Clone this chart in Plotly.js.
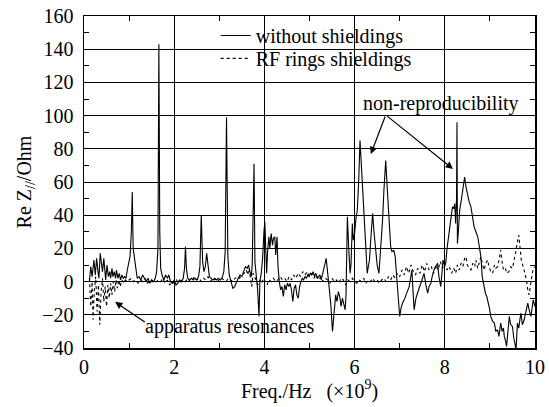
<!DOCTYPE html>
<html>
<head>
<meta charset="utf-8">
<script src="https://cdn.plot.ly/plotly-3.0.1.min.js"></script>
<style>
html,body{margin:0;padding:0;background:#fff}
#chart{width:549px;height:407px}
</style>
</head>
<body>
<div id="chart"></div>
<script>
// without shieldings (solid)
const freqA = [0.12,0.15,0.18,0.22,0.25,0.28,0.31,0.33,0.36,0.39,0.41,0.44,0.46,0.48,0.51,0.54,0.57,0.59,0.62,0.64,0.67,0.7,0.72,0.75,0.78,0.81,0.84,0.87,0.9,0.93,0.96,0.99,1.02,1.05,1.07,1.09,1.12,1.15,1.18,1.22,1.26,1.3,1.34,1.38,1.42,1.46,1.5,1.54,1.58,1.61,1.64,1.66,1.68,1.7,1.73,1.77,1.81,1.85,1.88,1.92,1.96,2.0,2.04,2.08,2.12,2.16,2.2,2.23,2.25,2.27,2.3,2.34,2.38,2.42,2.46,2.5,2.54,2.57,2.6,2.63,2.66,2.69,2.72,2.75,2.78,2.82,2.86,2.9,2.94,2.98,3.02,3.06,3.1,3.13,3.16,3.19,3.22,3.26,3.3,3.34,3.38,3.42,3.46,3.5,3.54,3.58,3.62,3.65,3.68,3.71,3.73,3.75,3.77,3.79,3.82,3.85,3.88,3.9,3.93,3.96,3.99,4.01,4.03,4.05,4.07,4.1,4.12,4.15,4.18,4.2,4.23,4.25,4.28,4.3,4.33,4.36,4.39,4.42,4.45,4.48,4.51,4.54,4.57,4.6,4.63,4.66,4.69,4.72,4.75,4.78,4.81,4.84,4.87,4.9,4.93,4.96,4.99,5.02,5.05,5.08,5.11,5.14,5.17,5.2,5.23,5.26,5.29,5.32,5.35,5.37,5.4,5.44,5.47,5.51,5.54,5.58,5.61,5.64,5.67,5.7,5.73,5.76,5.79,5.81,5.84,5.87,5.9,5.92,5.95,5.97,6.0,6.03,6.06,6.09,6.12,6.15,6.18,6.21,6.24,6.28,6.31,6.33,6.37,6.4,6.43,6.47,6.5,6.54,6.58,6.62,6.65,6.69,6.72,6.76,6.8,6.83,6.87,6.9,6.93,6.96,7.0,7.03,7.06,7.1,7.13,7.17,7.21,7.24,7.27,7.3,7.32,7.36,7.39,7.43,7.47,7.5,7.54,7.58,7.62,7.65,7.69,7.72,7.76,7.8,7.84,7.87,7.91,7.94,7.96,7.99,8.02,8.05,8.08,8.11,8.13,8.15,8.17,8.2,8.22,8.24,8.26,8.27,8.28,8.3,8.33,8.36,8.39,8.42,8.44,8.47,8.5,8.54,8.58,8.62,8.65,8.69,8.73,8.76,8.8,8.83,8.87,8.9,8.93,8.95,8.99,9.02,9.06,9.1,9.13,9.17,9.2,9.24,9.27,9.3,9.32,9.35,9.37,9.4,9.43,9.46,9.5,9.53,9.56,9.58,9.61,9.64,9.67,9.69,9.72,9.76,9.8,9.84,9.87,9.91,9.94,9.96,10.0];
const reZA = [0,9,3,13,4,14,6,2,17,10,6,14,4,1,10,3,6,2,8,3,6,2,7,2,5,1,4,2,3,2,7,12,15,30,54,20,14,5,2,3,1,4,2,0,2,-1,1,0,2,6,20,143,30,8,4,1,4,2,4,0,-1,1,-2,-1,1,0,2,8,21,8,2,1,2,1,2,1,3,9,40,12,6,9,17,8,3,2,1,2,1,2,1,2,6,18,99,15,4,0,-4,-3,0,2,4,3,6,9,8,10,6,3,10,40,71,12,2,-5,-21,0,5,14,30,36,20,5,18,27,20,29,22,26,27,16,27,10,0,-5,-3,-9,-2,-5,-1,-3,-1,-5,-12,-4,-2,-8,-10,-3,0,2,1,3,2,4,3,5,4,6,3,5,2,3,4,1,5,8,12,14,6,-4,-13,-30,-20,-8,-12,-6,-9,-15,-10,-14,-17,-8,39,20,5,10,35,25,29,38,43,60,85,70,55,47,30,5,10,13,30,41,30,17,10,5,20,37,55,73,58,41,21,18,19,15,5,-7,-21,-16,-13,-11,-9,-6,-3,2,7,-8,-17,-10,-7,-4,-1,2,5,-2,-7,-3,-1,3,7,9,11,3,-3,6,13,10,11,20,27,33,37,42,45,44,47,35,50,96,23,30,43,48,53,60,63,57,53,48,45,38,33,30,27,22,15,3,-3,-7,-9,-11,-16,-21,-24,-25,-30,-29,-33,-25,-30,-28,-33,-36,-39,-30,-21,-26,-27,-34,-38,-41,-25,-28,-22,-19,-26,-23,-18,-13,-17,-21,-15,-11,-15];

// RF rings shieldings (dotted)
const freqB = [0.12,0.15,0.18,0.2,0.23,0.26,0.29,0.32,0.35,0.38,0.41,0.44,0.47,0.5,0.53,0.56,0.59,0.62,0.65,0.68,0.71,0.74,0.77,0.8,0.84,0.88,0.92,0.96,1.0,1.05,1.1,1.15,1.2,1.25,1.3,1.35,1.4,1.45,1.5,1.55,1.6,1.65,1.7,1.75,1.8,1.85,1.9,1.95,2.0,2.05,2.1,2.15,2.2,2.25,2.3,2.35,2.4,2.45,2.5,2.55,2.6,2.65,2.7,2.75,2.8,2.85,2.9,2.95,3.0,3.05,3.1,3.15,3.2,3.25,3.3,3.35,3.4,3.45,3.5,3.55,3.6,3.63,3.66,3.69,3.72,3.75,3.78,3.82,3.86,3.9,3.94,3.98,4.02,4.06,4.1,4.15,4.2,4.25,4.3,4.35,4.4,4.45,4.5,4.55,4.6,4.65,4.7,4.75,4.8,4.85,4.9,4.95,5.0,5.05,5.1,5.15,5.2,5.25,5.3,5.35,5.4,5.45,5.5,5.55,5.6,5.65,5.7,5.75,5.8,5.85,5.9,5.95,6.0,6.05,6.1,6.15,6.2,6.25,6.3,6.35,6.4,6.45,6.5,6.55,6.6,6.65,6.7,6.75,6.8,6.85,6.9,6.95,7.0,7.05,7.1,7.15,7.2,7.25,7.3,7.35,7.4,7.45,7.5,7.55,7.6,7.65,7.7,7.75,7.8,7.85,7.9,7.95,8.0,8.05,8.1,8.15,8.2,8.24,8.28,8.32,8.36,8.4,8.44,8.47,8.5,8.54,8.58,8.62,8.66,8.69,8.73,8.77,8.8,8.84,8.87,8.91,8.95,8.98,9.02,9.06,9.1,9.13,9.17,9.21,9.24,9.27,9.3,9.34,9.38,9.42,9.46,9.5,9.54,9.58,9.61,9.64,9.67,9.7,9.74,9.78,9.81,9.84,9.87,9.9,9.93,9.96,10.0];
const reZB = [2,-15,0,-23,-5,3,-18,-2,-26,-6,2,-12,-3,-15,-2,-10,-1,-8,0,-6,1,-4,1,-3,1,-1,1,0,1,2,0,1,-1,1,0,2,-1,0,1,-1,0,1,0,2,-1,1,-2,0,-1,1,-1,0,1,0,2,0,1,3,1,2,0,2,1,3,0,2,1,2,0,2,1,0,2,1,0,2,3,2,4,5,7,4,8,2,-3,5,3,1,-2,1,-1,2,0,-2,1,0,2,0,1,3,1,2,0,3,1,4,2,5,3,6,4,6,3,5,2,4,1,3,0,2,1,-1,2,0,1,-1,2,1,-2,1,0,2,0,-1,1,0,2,-1,1,0,2,0,1,-1,1,2,0,3,1,4,2,5,3,7,4,9,5,10,6,4,8,5,10,6,11,7,9,5,10,7,12,8,11,7,9,5,8,5,10,7,11,9,14,15,10,8,7,11,9,13,8,12,15,10,7,11,13,9,6,5,10,8,9,14,19,12,7,8,5,6,9,8,13,19,24,28,20,12,9,5,1,-5,-8,-2,3,8,9];

const seriesNames = ['without shieldings', 'RF rings shieldings'];

const fam = 'Liberation Serif';

const traces = [
  {x: freqA, y: reZA, name: seriesNames[0], type: 'scatter', mode: 'lines', legend: 'legend',
   line: {color: '#000', width: 1.1}},
  {x: freqB, y: reZB, name: seriesNames[1], type: 'scatter', mode: 'lines', legend: 'legend2',
   line: {color: '#000', width: 1.1, dash: 'dot'}}
];

const legendBase = {x: 0.292, xanchor: 'left', yanchor: 'top', bgcolor: 'rgba(0,0,0,0)',
                    borderwidth: 0, font: {family: fam, size: 20, color: '#000'}};

const layout = {
  width: 549, height: 407,
  margin: {l: 84, r: 14, t: 16, b: 59},
  paper_bgcolor: '#fff', plot_bgcolor: '#fff',
  font: {family: fam, color: '#000', size: 20},
  showlegend: true,
  legend: Object.assign({y: 1.0}, legendBase),
  legend2: Object.assign({y: 0.931}, legendBase),
  shapes: [
    {type: 'rect', xref: 'paper', yref: 'paper', x0: 0.264, x1: 0.772, y0: 0.822, y1: 1,
     fillcolor: '#fff', line: {width: 0}, layer: 'between'}
  ],
  xaxis: {
    showline: true, linecolor: '#000', linewidth: 1.5, mirror: 'ticks',
    showgrid: true, gridcolor: '#000', gridwidth: 1, zeroline: false, ticks: '',
    tickfont: {family: fam, size: 20, color: '#000'},
    range: [0, 10], dtick: 2, tick0: 0,
    minor: {dtick: 1, ticks: 'inside', ticklen: 5, tickcolor: '#000', tickwidth: 1, showgrid: false},
    title: {text: 'Freq./Hz&nbsp;&nbsp;&nbsp;(×10<sup>9</sup>)', font: {family: fam, size: 20, color: '#000'}, standoff: 6}
  },
  yaxis: {
    showline: true, linecolor: '#000', linewidth: 1.5, mirror: 'ticks',
    showgrid: true, gridcolor: '#000', gridwidth: 1, zeroline: false, ticks: '',
    tickfont: {family: fam, size: 20, color: '#000'}, ticksuffix: '\u00a0',
    range: [-40, 160], dtick: 20, tick0: 0,
    minor: {dtick: 10, ticks: 'inside', ticklen: 5, tickcolor: '#000', tickwidth: 1, showgrid: false},
    title: {text: 'Re Z<sub>//</sub>/Ohm', font: {family: fam, size: 20, color: '#000'}, standoff: 5}
  },
  annotations: [
    {x: 7.91, y: 107, xref: 'x', yref: 'y', text: 'non-reproducibility', showarrow: false,
     font: {family: fam, size: 20, color: '#000'}},
    {x: 6.36, y: 76.9, ax: 6.69, ay: 100.4, xref: 'x', yref: 'y', axref: 'x', ayref: 'y',
     text: '', showarrow: true, arrowhead: 2, arrowsize: 1.2, arrowwidth: 1.2, arrowcolor: '#000'},
    {x: 8.18, y: 67.9, ax: 6.69, ay: 100.4, xref: 'x', yref: 'y', axref: 'x', ayref: 'y',
     text: '', showarrow: true, arrowhead: 2, arrowsize: 1.2, arrowwidth: 1.2, arrowcolor: '#000'},
    {x: 3.24, y: -27.3, xref: 'x', yref: 'y', text: 'apparatus resonances', showarrow: false,
     font: {family: fam, size: 20, color: '#000'}},
    {x: 0.69, y: -12.2, ax: 1.38, ay: -25, xref: 'x', yref: 'y', axref: 'x', ayref: 'y',
     text: '', showarrow: true, arrowhead: 2, arrowsize: 1.2, arrowwidth: 1.2, arrowcolor: '#000'}
  ]
};

Plotly.newPlot('chart', traces, layout, {staticPlot: true});
</script>
</body>
</html>
